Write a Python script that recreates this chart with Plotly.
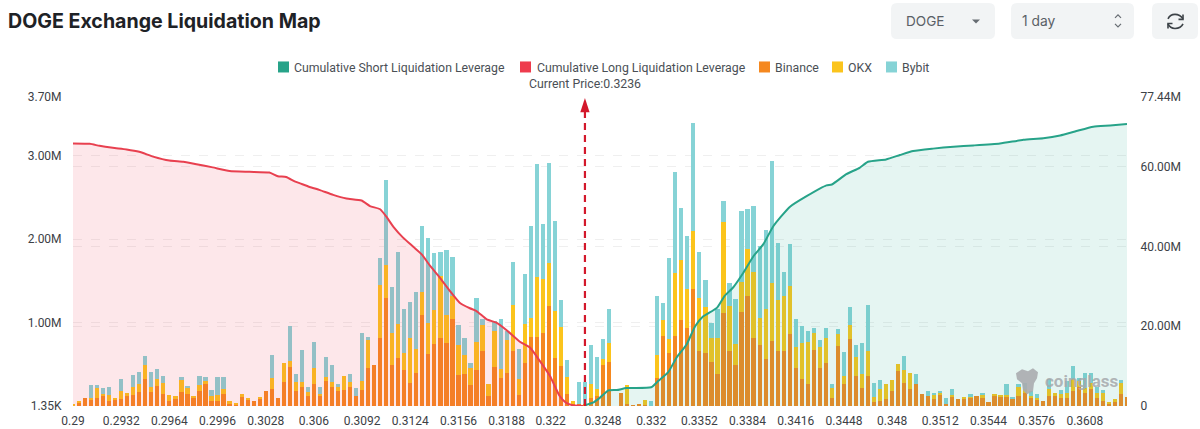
import plotly.graph_objects as go

# ---- data ----
binance_k = [12,40,100,72,100,128,60,80,80,120,132,168,328,168,240,140,60,80,172,148,100,180,268,60,60,148,20,12,112,72,60,88,180,200,96,288,464,180,232,120,260,132,300,232,176,192,228,120,192,452,492,812,1292,492,572,432,280,400,1088,628,740,812,752,1040,368,380,248,428,660,120,472,340,392,660,128,512,832,832,880,1200,572,480,140,20,20,20,100,120,488,532,0,152,20,8,20,12,0,340,840,640,840,1028,940,1400,660,632,532,380,1112,660,488,1132,1320,812,728,560,780,656,664,860,452,320,260,668,456,512,96,720,260,800,360,212,360,48,60,80,180,420,280,208,260,140,120,80,132,20,120,80,88,100,120,108,48,128,120,120,80,120,152,100,80,60,120,120,100,96,180,228,160,200,100,60,20,48,140,112]
okx_k = [8,20,0,28,120,12,68,8,100,40,96,92,164,64,80,140,68,40,140,72,20,68,32,60,68,60,40,28,28,28,0,24,0,136,0,232,80,112,56,52,200,8,44,56,56,168,64,0,108,336,0,640,400,380,416,208,540,280,272,364,408,748,340,280,364,232,204,344,308,140,428,100,396,548,192,468,228,712,640,512,568,468,212,40,0,0,168,80,72,228,0,0,228,0,0,56,0,268,192,168,748,720,460,700,640,560,280,440,1088,540,252,348,560,796,332,600,692,612,656,580,260,440,512,204,252,300,124,148,100,168,232,168,300,60,140,180,132,80,148,192,0,0,0,60,28,0,8,0,12,20,0,20,0,12,8,8,0,112,48,20,20,0,88,40,40,64,140,72,60,80,52,100,28,40,140,0]
bybit_k = [0,0,0,148,28,76,100,0,140,0,140,148,108,176,128,80,0,0,36,20,0,112,52,72,220,136,0,0,0,0,0,0,0,280,0,0,416,96,384,60,308,92,240,208,36,0,92,100,580,40,0,320,1020,548,852,520,432,680,800,1024,680,288,780,464,236,208,68,520,72,0,120,608,112,512,360,600,1092,1356,660,1200,1080,320,200,0,272,272,464,392,240,408,0,0,0,0,0,0,60,712,208,968,1212,624,632,1284,548,316,188,340,252,268,540,860,480,792,860,952,1464,680,280,496,336,200,132,64,84,128,44,52,292,224,140,380,548,172,108,0,0,0,172,0,120,0,60,8,12,80,80,0,0,20,0,24,0,0,0,132,32,28,80,60,40,0,112,0,52,140,160,40,180,120,80,32,0,0,32,0]

long_idx = [0,2.8,4.4,6.6,8.9,11,13.3,16,18.3,20.5,23.2,26,29.3,32.6,34,35.4,36.8,37.7,39.3,41,43.2,45.4,47.9,49.3,51,52,53.2,54.8,56.5,57.9,59.3,60.9,62.6,64.2,65.9,67,68.7,70.3,72,74.2,75.9,77.5,79.2,80.8,81.9,83,84.7]
long_m = [65.8,65.7,65.2,64.7,64.3,63.7,62.5,61.5,61.2,60.6,59.8,58.9,58.7,58.5,57.6,57.4,56.3,55.8,54.9,54.1,52.9,52,51.5,50.1,49.3,47.5,44.9,42.2,39.9,38,35.1,32.2,28.8,25.9,24.5,23.8,21.7,20.9,19,16.1,14.6,11.3,7.5,2.5,0.8,0.2,0]
short_idx = [85,86.5,87.5,88.9,90.3,91.9,96,97.2,98.8,100.2,101.9,103.3,104.6,106.9,108.2,109.6,111.3,113,114.6,116.3,119,121.8,125.1,126,128.4,130.6,132,135,137.3,139.5,142.8,146.2,149.5,153.9,157.8,161.1,163.9,166.6,169.4,172.2,175]
short_m = [0.2,1.0,2.1,3.9,4.0,4.5,4.7,6.3,8.4,12.1,15.5,20,22.4,24.6,27.6,29.7,33.4,37.6,40.5,45.1,49.9,52.6,55.3,55.5,58.1,59.7,61.2,61.8,62.9,63.9,64.5,65,65.3,65.8,66.7,67.1,67.8,68.9,70,70.3,70.7]

tick_pos = [0,8,16,24,32,40,48,56,64,72,79.3,88,96,104,112,120,128,136,144,152,160,168]
tick_labels = ["0.29","0.2932","0.2964","0.2996","0.3028","0.306","0.3092","0.3124","0.3156","0.3188","0.322","0.3248","0.332","0.3352","0.3384","0.3416","0.3448","0.348","0.3512","0.3544","0.3576","0.3608"]
left_vals = [1350,1e6,2e6,3e6,3.7e6]
left_text = ["1.35K","1.00M","2.00M","3.00M","3.70M"]
right_vals = [0,20e6,40e6,60e6,77.44e6]
right_text = ["0","20.00M","40.00M","60.00M","77.44M"]
current_idx = 85
current_label = "Current Price:0.3236"
title = "DOGE Exchange Liquidation Map"

ORANGE, YELLOW, TEAL = "#f5881f", "#fbc41c", "#86d3d6"
RED, GREEN = "#e8404f", "#27a389"
L, R, T, B = 73, 1127, 97, 405.7
W, H = 1200, 429
PLOT_W, PLOT_H = R - L, B - T

def px(x):
    return (x - L) / PLOT_W
def py(y):
    return (B - y) / PLOT_H

idx = list(range(len(binance_k)))
fig = go.Figure()
for name, vals, col in [("Binance", binance_k, ORANGE), ("OKX", okx_k, YELLOW), ("Bybit", bybit_k, TEAL)]:
    fig.add_bar(x=idx, y=[v * 1000 for v in vals], name=name, marker=dict(color=col, line=dict(width=0)),
                cliponaxis=False, yaxis="y")
fig.add_scatter(x=long_idx, y=[v * 1e6 for v in long_m], name="Cumulative Long Liquidation Leverage", yaxis="y2",
                mode="lines", line=dict(color=RED, width=2, shape="spline", smoothing=0.5),
                fill="tozeroy", fillcolor="rgba(240,70,90,0.13)")
fig.add_scatter(x=short_idx, y=[v * 1e6 for v in short_m], name="Cumulative Short Liquidation Leverage", yaxis="y2",
                mode="lines", line=dict(color=GREEN, width=2, shape="spline", smoothing=0.5),
                fill="tozeroy", fillcolor="rgba(40,170,145,0.12)")
# current price marker
fig.add_scatter(x=[current_idx, current_idx], y=[0, 73.7e6], yaxis="y2", mode="lines",
                line=dict(color="#d3182b", width=2.2, dash="7px,5px"), showlegend=False)
fig.add_scatter(x=[current_idx], y=[77.2e6], yaxis="y2", mode="markers", cliponaxis=False,
                marker=dict(symbol="arrow", color="#d3182b", size=15, line=dict(width=0)), showlegend=False)

shapes, ann = [], []
FONT = "Roboto, sans-serif"
TXT = "#4a4f55"

def text(x, y, s, size=12.3, color=TXT, anchor="left", family=FONT, weight=None):
    f = dict(size=size, color=color, family=family)
    if weight:
        f["weight"] = weight
    ann.append(dict(xref="paper", yref="paper", x=px(x), y=py(y), text=s, showarrow=False,
                    xanchor=anchor, yanchor="middle", font=f, xshift=0, yshift=0, borderpad=0))

def box(x0, y0, x1, y1, color):
    r = 6
    xa, xb, ya, yb = x0, x1, y0, y1
    d = (f"M {px(xa+r)} {py(ya)} L {px(xb-r)} {py(ya)} Q {px(xb)} {py(ya)} {px(xb)} {py(ya+r)} "
         f"L {px(xb)} {py(yb-r)} Q {px(xb)} {py(yb)} {px(xb-r)} {py(yb)} "
         f"L {px(xa+r)} {py(yb)} Q {px(xa)} {py(yb)} {px(xa)} {py(yb-r)} "
         f"L {px(xa)} {py(ya+r)} Q {px(xa)} {py(ya)} {px(xa+r)} {py(ya)} Z")
    shapes.append(dict(type="path", xref="paper", yref="paper", path=d, fillcolor=color, line=dict(width=0), layer="below"))

def sq(x, color):
    shapes.append(dict(type="rect", xref="paper", yref="paper", x0=px(x), x1=px(x + 11), y0=py(72.5), y1=py(61.5),
                       fillcolor=color, line=dict(width=0)))

def stroke(pts, color, width=1.6):
    d = "M " + " L ".join(f"{px(a)} {py(b)}" for a, b in pts)
    shapes.append(dict(type="path", xref="paper", yref="paper", path=d, line=dict(color=color, width=width)))

# header
text(7, 21, title, size=19.6, color="#1e2226", family="Inter, sans-serif", weight=700)
box(891, 3, 995, 39, "#f2f4f5")
box(1011, 3, 1134, 39, "#f2f4f5")
box(1152, 3, 1198, 39, "#f2f4f5")
text(904.5, 21.5, "DOGE", size=13.6, color="#5a6066", family="Inter, sans-serif")
text(1020.5, 21.5, "1 day", size=13.8, color="#5a6066", family="Inter, sans-serif")
shapes.append(dict(type="path", xref="paper", yref="paper",
                   path=f"M {px(972)} {py(19.5)} L {px(980)} {py(19.5)} L {px(976)} {py(23.5)} Z",
                   fillcolor="#666c72", line=dict(width=0)))
stroke([(1115, 18), (1118, 15), (1121, 18)], "#666c72", 1.2)
stroke([(1115, 24), (1118, 27), (1121, 24)], "#666c72", 1.2)
# refresh icon
d1 = f"M {px(1168)} {py(19)} Q {px(1170)} {py(14.5)} {px(1175)} {py(14.5)} Q {px(1180)} {py(14.5)} {px(1183)} {py(19)}"
d2 = f"M {px(1183)} {py(24)} Q {px(1181)} {py(28.5)} {px(1175)} {py(28.5)} Q {px(1170)} {py(28.5)} {px(1168)} {py(24)}"
for d in (d1, d2):
    shapes.append(dict(type="path", xref="paper", yref="paper", path=d, line=dict(color="#3d4348", width=1.6)))
stroke([(1183, 14.5), (1183, 19.5), (1178.5, 19.5)], "#3d4348")
stroke([(1168, 28.5), (1168, 23.5), (1172.5, 23.5)], "#3d4348")

# legend row
legend = [(278, GREEN, "Cumulative Short Liquidation Leverage", 293),
          (520, "#ee3b4d", "Cumulative Long Liquidation Leverage", 535.5),
          (759, ORANGE, "Binance", 774),
          (832, YELLOW, "OKX", 847),
          (886, TEAL, "Bybit", 901)]
for sx, col, s, tx in legend:
    sq(sx, col)
    text(tx, 68, s)
text(585, 84.5, current_label, anchor="center")

# watermark
blob = [(1016,373),(1022,369),(1028,371),(1033,368),(1038,372),(1037,378),(1034,383),(1033,391),(1027,394),(1023,390),(1022,383),(1017,379)]
shapes.append(dict(type="path", xref="paper", yref="paper",
                   path="M " + " L ".join(f"{px(a)} {py(b)}" for a, b in blob) + " Z",
                   fillcolor="rgba(170,172,175,0.9)", line=dict(width=0)))
text(1044, 381, "coinglass", size=17, color="rgba(165,168,172,0.85)", family=FONT, weight=700)

axis_font = dict(size=12, color="#3c4146")
fig.update_layout(
    width=W, height=H, autosize=False,
    margin=dict(l=L, r=W - R, t=T, b=H - B, pad=0),
    paper_bgcolor="white", plot_bgcolor="white",
    barmode="stack", bargap=0.3, showlegend=False,
    font=dict(family=FONT, size=12, color=TXT),
    shapes=shapes, annotations=ann,
    xaxis=dict(range=[0, 175], automargin=False, tickmode="array", tickvals=tick_pos, ticktext=tick_labels, showgrid=False,
               zeroline=False, showline=False, ticks="outside", ticklen=4, tickcolor="rgba(0,0,0,0)",
               tickfont=axis_font),
    yaxis=dict(range=[1350, 3.7e6], automargin=False, tickmode="array", tickvals=left_vals, ticktext=left_text, showgrid=True,
               gridcolor="#efefef", griddash="dash", gridwidth=1, zeroline=False, showline=False, ticks="outside", ticklen=8,
               tickcolor="rgba(0,0,0,0)", tickfont=axis_font),
    yaxis2=dict(range=[0, 77.44e6], automargin=False, overlaying="y", side="right", tickmode="array", tickvals=right_vals,
                ticktext=right_text, showgrid=True, gridcolor="#efefef", griddash="dash", gridwidth=1, zeroline=False,
                showline=False, ticks="outside", ticklen=10, tickcolor="rgba(0,0,0,0)",
                tickfont=axis_font),
)
fig.write_html("out.html", config=dict(displayModeBar=False),
               post_script="document.body.style.margin='0';document.body.style.overflow='hidden';")
